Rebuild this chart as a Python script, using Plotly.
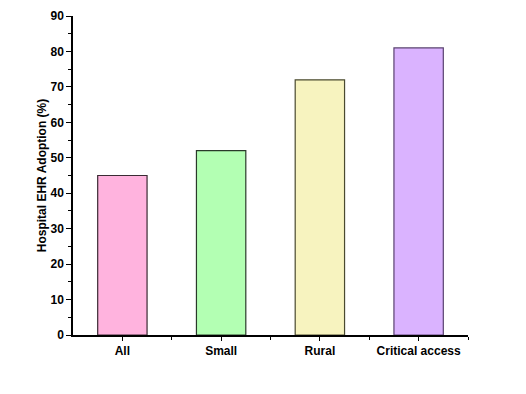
import plotly.graph_objects as go

categories = ["All", "Small", "Rural", "Critical access"]
values = [45, 52, 72, 81]
colors = ["#FFB3DE", "#B3FFB3", "#F7F3BF", "#DAB3FF"]
edge_colors = ["#3a2a33", "#2a3a2a", "#4a4a30", "#5a4270"]
y_ticks = [0, 10, 20, 30, 40, 50, 60, 70, 80, 90]

x_pos = list(range(len(categories)))

fig = go.Figure(go.Bar(
    x=x_pos, y=values, width=0.5,
    marker=dict(color=colors, line=dict(color=edge_colors, width=1.2)),
))

font = dict(family="Liberation Sans, Arial, sans-serif", size=12, color="black")

fig.update_layout(
    width=526, height=394,
    margin=dict(l=65, r=66, t=8, b=67, autoexpand=False),
    paper_bgcolor="white", plot_bgcolor="white",
    showlegend=False,
    font=font,
    xaxis=dict(
        range=[-0.5, 3.5], tickmode="array", tickvals=x_pos,
        ticktext=["<b>%s</b>" % c for c in categories],
        showline=True, linecolor="black", linewidth=1.5,
        ticks="outside", ticklen=4, tickwidth=1.2, tickcolor="black",
        showgrid=False, zeroline=False,
        minor=dict(tickmode="array", tickvals=[0.5, 1.5, 2.5, 3.5],
                   ticks="outside", ticklen=3, tickwidth=1, tickcolor="black", showgrid=False),
        tickfont=dict(size=12),
    ),
    yaxis=dict(
        range=[0, 90], tickmode="array", tickvals=y_ticks,
        ticktext=["<b>%d</b>" % v for v in y_ticks],
        showline=True, linecolor="black", linewidth=1.5,
        ticks="outside", ticklen=5, tickwidth=1.2, tickcolor="black",
        showgrid=False, zeroline=False,
        minor=dict(dtick=5, tick0=0, ticks="outside", ticklen=3, tickwidth=1,
                   tickcolor="black", showgrid=False),
        title=dict(text="<b>Hospital EHR Adoption (%)</b>", font=dict(size=12), standoff=1),
        tickfont=dict(size=12),
    ),
)

fig.write_html("out.html")
